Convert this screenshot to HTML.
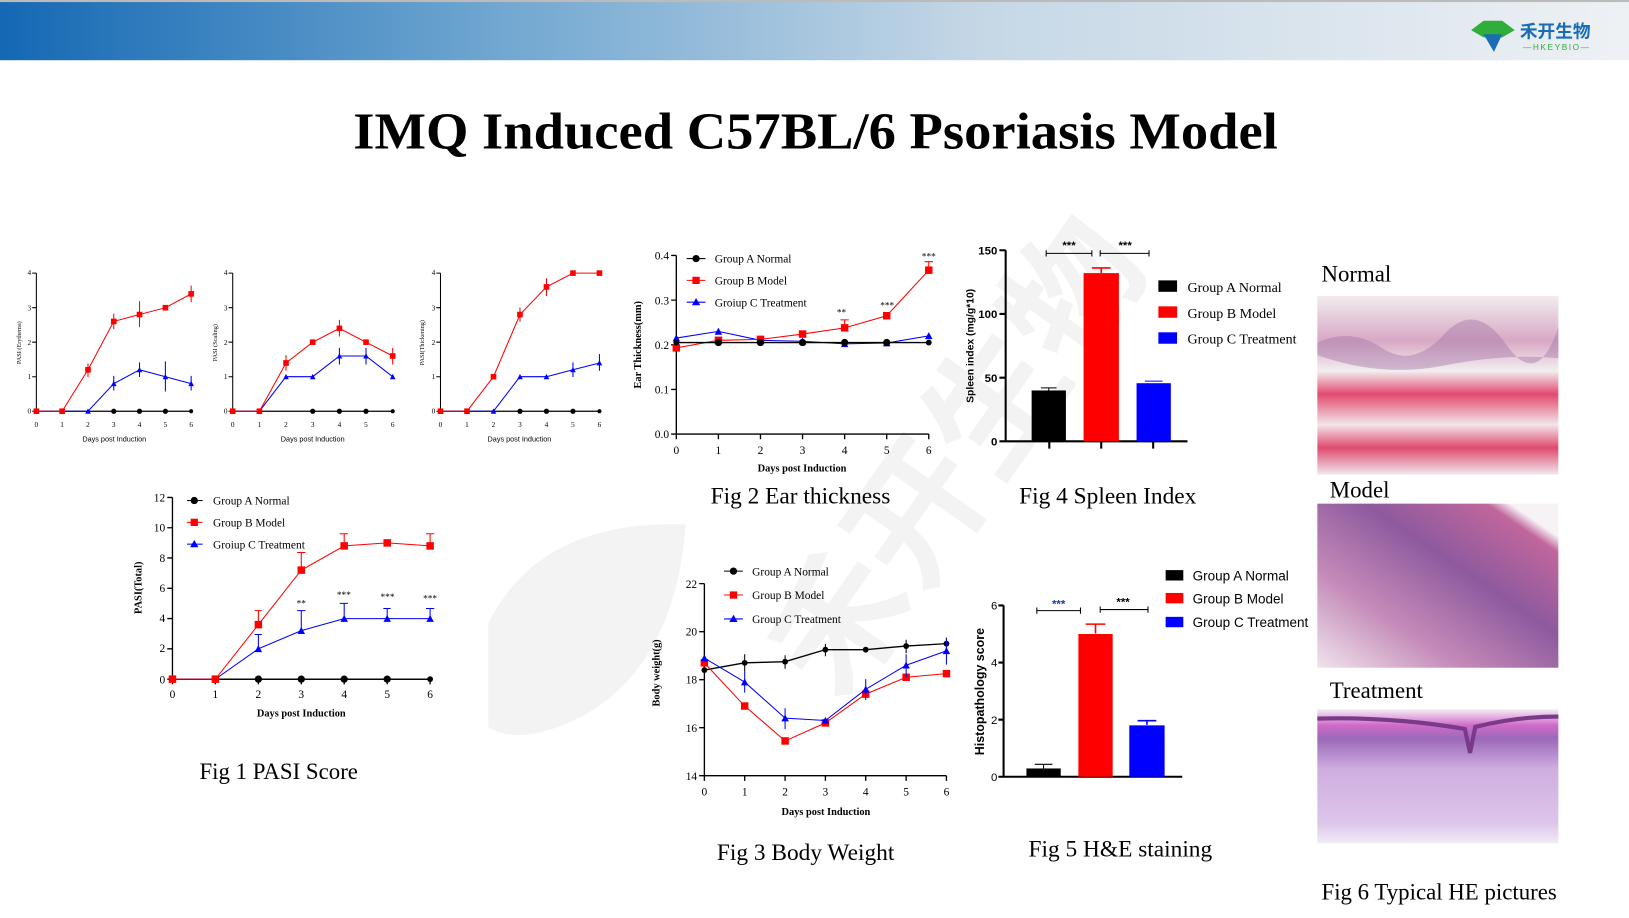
<!DOCTYPE html>
<html><head><meta charset="utf-8"><style>
html,body{margin:0;padding:0;background:#fff;overflow:hidden}
svg{display:block}
.s{font-family:"Liberation Serif",serif}
.a{font-family:"Liberation Sans",sans-serif}
</style></head><body>
<svg width="1629" height="918" viewBox="0 0 1568 884" preserveAspectRatio="none" xmlns="http://www.w3.org/2000/svg">
<defs>
<linearGradient id="hd" x1="0" x2="1" y1="0" y2="0">
<stop offset="0" stop-color="#1468b4"/><stop offset="0.3" stop-color="#6fa6d0"/><stop offset="0.6" stop-color="#c5d7e6"/><stop offset="1" stop-color="#eef1f4"/></linearGradient>
<marker id="ca" viewBox="-5 -5 10 10" markerWidth="7" markerHeight="7" markerUnits="userSpaceOnUse"><circle r="4" fill="#000"/></marker>
<marker id="sq" viewBox="-5 -5 10 10" markerWidth="8" markerHeight="8" markerUnits="userSpaceOnUse"><rect x="-4.5" y="-4.5" width="9" height="9" fill="#f00"/></marker>
<marker id="tr" viewBox="-5 -5 10 10" markerWidth="8" markerHeight="8" markerUnits="userSpaceOnUse"><path d="M0,-4.5 L4.5,4 L-4.5,4Z" fill="#00f"/></marker>
<marker id="cs" viewBox="-5 -5 10 10" markerWidth="5" markerHeight="5" markerUnits="userSpaceOnUse"><circle r="4" fill="#000"/></marker>
<marker id="ss" viewBox="-5 -5 10 10" markerWidth="6" markerHeight="6" markerUnits="userSpaceOnUse"><rect x="-4.5" y="-4.5" width="9" height="9" fill="#f00"/></marker>
<marker id="ts" viewBox="-5 -5 10 10" markerWidth="6" markerHeight="6" markerUnits="userSpaceOnUse"><path d="M0,-4.5 L4.5,4 L-4.5,4Z" fill="#00f"/></marker>
<linearGradient id="nrm" x1="0" y1="0" x2="0" y2="1"><stop offset="0" stop-color="#f1ecef"/><stop offset="0.25" stop-color="#d8a8c4"/><stop offset="0.42" stop-color="#f3eef0"/><stop offset="0.55" stop-color="#e24a6e"/><stop offset="0.72" stop-color="#f2e6ea"/><stop offset="0.85" stop-color="#e04a70"/><stop offset="1" stop-color="#f0e8ee"/></linearGradient>
<linearGradient id="mdl" x1="0" y1="1" x2="1" y2="0"><stop offset="0" stop-color="#f0e4ec"/><stop offset="0.3" stop-color="#c48ab8"/><stop offset="0.6" stop-color="#8e5a9e"/><stop offset="0.85" stop-color="#c0669c"/><stop offset="0.9" stop-color="#f7f2f6"/></linearGradient>
<linearGradient id="trt" x1="0" y1="0" x2="0" y2="1"><stop offset="0" stop-color="#f4eef6"/><stop offset="0.12" stop-color="#d06ac8"/><stop offset="0.22" stop-color="#9a6ab8"/><stop offset="0.45" stop-color="#d0aee0"/><stop offset="0.85" stop-color="#dcc6ea"/><stop offset="1" stop-color="#f1ecf6"/></linearGradient>
</defs>
<rect x="0" y="0" width="1568" height="58" fill="url(#hd)"/>
<rect x="0" y="0" width="1568" height="2" fill="#bbb"/>
<path d="M1416,29 L1428,20 L1446,20 L1458,29 L1446,36 L1428,36Z" fill="#2fae3a"/>
<path d="M1428,33 L1446,33 L1438,50Z" fill="#1a6cb4"/>
<text x="1463" y="36" font-size="17" font-weight="bold" fill="#1a6cb4" style="font-family:'Liberation Sans','Noto Sans CJK SC',sans-serif">禾开生物</text>
<text x="1466" y="48" class="a" font-size="8" fill="#2fae3a" letter-spacing="1.5">—HKEYBIO—</text>
<g opacity="0.05" fill="#000"><path d="M470,600 Q520,500 660,505 Q650,640 560,690 Q500,720 470,700Z"/>
<text x="560" y="560" transform="rotate(-55 800 380)" font-size="130" font-weight="bold" style="font-family:'Liberation Sans','Noto Sans CJK SC',sans-serif">禾开生物</text></g>
<text x="340" y="143" textLength="890" lengthAdjust="spacingAndGlyphs" class="s" font-size="50" font-weight="bold">IMQ Induced C57BL/6 Psoriasis Model</text>

<g class="s" font-size="7" stroke-width="1">
<g stroke="#000" fill="none"><path d="M35,263V396H184"/><path d="M31,263H35M31,296.3H35M31,329.5H35M31,362.8H35M31,396H35"/></g>
<g text-anchor="end"><text x="30" y="265">4</text><text x="30" y="299">3</text><text x="30" y="332">2</text><text x="30" y="365">1</text><text x="30" y="398">0</text></g>
<g text-anchor="middle"><text x="35" y="411">0</text><text x="59.8" y="411">1</text><text x="84.7" y="411">2</text><text x="109.5" y="411">3</text><text x="134.3" y="411">4</text><text x="159.2" y="411">5</text><text x="184" y="411">6</text></g>
<text x="110" y="425" text-anchor="middle" class="a" font-size="7">Days post Induction</text>
<text transform="translate(20,330) rotate(-90)" text-anchor="middle" font-size="6">PASI (Erythema)</text>
<polyline points="35,396 184,396" stroke="#000" fill="none" marker-mid="url(#cs)" marker-start="url(#cs)" marker-end="url(#cs)"/>
<circle cx="109.5" cy="396" r="2.5"/><circle cx="134.3" cy="396" r="2.5"/><circle cx="159.2" cy="396" r="2.5"/>
<polyline points="35,396 59.8,396 84.7,396 109.5,369.4 134.3,356.1 159.2,362.8 184,369.4" stroke="#00f" fill="none" marker-start="url(#ts)" marker-mid="url(#ts)" marker-end="url(#ts)"/>
<polyline points="35,396 59.8,396 84.7,356.1 109.5,309.5 134.3,302.9 159.2,296.3 184,283" stroke="#f00" fill="none" marker-start="url(#ss)" marker-mid="url(#ss)" marker-end="url(#ss)"/>
<path d="M109.5,302V317M134.3,290V315M184,275V291M84.7,350V363" stroke="#f00"/>
<path d="M109.5,362V376M134.3,349V363M159.2,348V377M184,362V376" stroke="#00f"/>
</g>
<g class="s" font-size="7">
<g stroke="#000" fill="none"><path d="M224,263V396H378"/><path d="M220,263H224M220,296.3H224M220,329.5H224M220,362.8H224M220,396H224"/></g>
<g text-anchor="end"><text x="219" y="265">4</text><text x="219" y="299">3</text><text x="219" y="332">2</text><text x="219" y="365">1</text><text x="219" y="398">0</text></g>
<g text-anchor="middle"><text x="224" y="411">0</text><text x="249.7" y="411">1</text><text x="275.3" y="411">2</text><text x="301" y="411">3</text><text x="326.7" y="411">4</text><text x="352.3" y="411">5</text><text x="378" y="411">6</text></g>
<text x="301" y="425" text-anchor="middle" class="a" font-size="7">Days post Induction</text>
<text transform="translate(209,330) rotate(-90)" text-anchor="middle" font-size="6">PASI (Scaling)</text>
<polyline points="224,396 378,396" stroke="#000" fill="none" marker-mid="url(#cs)" marker-start="url(#cs)" marker-end="url(#cs)"/>
<circle cx="301" cy="396" r="2.5"/><circle cx="326.7" cy="396" r="2.5"/><circle cx="352.3" cy="396" r="2.5"/>
<polyline points="224,396 249.7,396 275.3,362.75 301,362.75 326.7,342.8 352.3,342.8 378,362.75" stroke="#00f" fill="none" marker-start="url(#ts)" marker-mid="url(#ts)" marker-end="url(#ts)"/>
<polyline points="224,396 249.7,396 275.3,349.5 301,329.5 326.7,316.2 352.3,329.5 378,342.8" stroke="#f00" fill="none" marker-start="url(#ss)" marker-mid="url(#ss)" marker-end="url(#ss)"/>
<path d="M275.3,342V357M326.7,308V324M378,335V351" stroke="#f00"/>
<path d="M326.7,335V351M352.3,335V351" stroke="#00f"/>
</g>
<g class="s" font-size="7">
<g stroke="#000" fill="none"><path d="M424,263V396H577"/><path d="M420,263H424M420,296.3H424M420,329.5H424M420,362.8H424M420,396H424"/></g>
<g text-anchor="end"><text x="419" y="265">4</text><text x="419" y="299">3</text><text x="419" y="332">2</text><text x="419" y="365">1</text><text x="419" y="398">0</text></g>
<g text-anchor="middle"><text x="424" y="411">0</text><text x="449.5" y="411">1</text><text x="475" y="411">2</text><text x="500.5" y="411">3</text><text x="526" y="411">4</text><text x="551.5" y="411">5</text><text x="577" y="411">6</text></g>
<text x="500" y="425" text-anchor="middle" class="a" font-size="7">Days post Induction</text>
<text transform="translate(408,330) rotate(-90)" text-anchor="middle" font-size="6">PASI(Thickening)</text>
<polyline points="424,396 577,396" stroke="#000" fill="none" marker-mid="url(#cs)" marker-start="url(#cs)" marker-end="url(#cs)"/>
<circle cx="500.5" cy="396" r="2.5"/><circle cx="526" cy="396" r="2.5"/><circle cx="551.5" cy="396" r="2.5"/>
<polyline points="424,396 449.5,396 475,396 500.5,362.75 526,362.75 551.5,356.1 577,349.5" stroke="#00f" fill="none" marker-start="url(#ts)" marker-mid="url(#ts)" marker-end="url(#ts)"/>
<polyline points="424,396 449.5,396 475,362.75 500.5,302.9 526,276.3 551.5,263 577,263" stroke="#f00" fill="none" marker-start="url(#ss)" marker-mid="url(#ss)" marker-end="url(#ss)"/>
<path d="M500.5,296V310M526,268V285" stroke="#f00"/>
<path d="M551.5,349V363M577,341V357" stroke="#00f"/>
</g>

<g class="s" font-size="11">
<g stroke="#000" fill="none" stroke-width="1.3"><path d="M166,479V654H414"/><path d="M161,479H166M161,508.2H166M161,537.3H166M161,566.5H166M161,595.7H166M161,624.8H166M161,654H166"/>
<path d="M166,654V659M207.3,654V659M248.7,654V659M290,654V659M331.3,654V659M372.7,654V659M414,654V659"/></g>
<g text-anchor="end"><text x="159" y="483">12</text><text x="159" y="512">10</text><text x="159" y="541">8</text><text x="159" y="570">6</text><text x="159" y="599">4</text><text x="159" y="628">2</text><text x="159" y="658">0</text></g>
<g text-anchor="middle"><text x="166" y="672">0</text><text x="207.3" y="672">1</text><text x="248.7" y="672">2</text><text x="290" y="672">3</text><text x="331.3" y="672">4</text><text x="372.7" y="672">5</text><text x="414" y="672">6</text></g>
<text x="290" y="690" text-anchor="middle" font-size="10" font-weight="bold">Days post Induction</text>
<text transform="translate(136,566) rotate(-90)" text-anchor="middle" font-size="10" font-weight="bold">PASI(Total)</text>
<polyline points="166,654 414,654" stroke="#000" stroke-width="1.3" fill="none" marker-start="url(#ca)" marker-end="url(#ca)"/>
<circle cx="248.7" cy="654" r="3.5"/><circle cx="290" cy="654" r="3.5"/><circle cx="331.3" cy="654" r="3.5"/><circle cx="372.7" cy="654" r="3.5"/>
<polyline points="166,654 207.3,654 248.7,624.8 290,607.3 331.3,595.7 372.7,595.7 414,595.7" stroke="#00f" fill="none" marker-start="url(#tr)" marker-mid="url(#tr)" marker-end="url(#tr)"/>
<polyline points="166,654 207.3,654 248.7,601.5 290,549 331.3,525.7 372.7,522.8 414,525.7" stroke="#f00" fill="none" marker-start="url(#sq)" marker-mid="url(#sq)" marker-end="url(#sq)"/>
<path d="M248.7,588V601M245,588H252M290,532V549M286,532H294M331.3,514V526M327,514H335M414,514V526M410,514H418" stroke="#f00"/>
<path d="M248.7,611V625M245,611H252M290,588V607M286,588H294M331.3,581V596M327,581H335M372.7,586V596M369,586H376M414,586V596M410,586H418" stroke="#00f"/>
<g font-size="9" text-anchor="middle"><text x="290" y="584">**</text><text x="331" y="576">***</text><text x="373" y="578">***</text><text x="414" y="579">***</text></g>
<path d="M180,482H195" stroke="#000"/><circle cx="187" cy="482" r="3.5"/>
<path d="M180,503H195" stroke="#f00"/><rect x="183.5" y="499.5" width="7" height="7" fill="#f00"/>
<path d="M180,524H195" stroke="#00f"/><path d="M187,520L191,527H183Z" fill="#00f"/>
<text x="205" y="486">Group A Normal</text><text x="205" y="507">Group B Model</text><text x="205" y="528">Groiup C Treatment</text>
</g>
<text x="192" y="750" class="s" font-size="22">Fig 1  PASI Score</text>

<g class="s" font-size="11">
<g stroke="#000" fill="none" stroke-width="1.3"><path d="M651,246V418H894"/><path d="M646,246H651M646,289H651M646,332H651M646,375H651M646,418H651"/>
<path d="M651,418V423M691.5,418V423M732,418V423M772.5,418V423M813,418V423M853.5,418V423M894,418V423"/></g>
<g text-anchor="end"><text x="644" y="250">0.4</text><text x="644" y="293">0.3</text><text x="644" y="336">0.2</text><text x="644" y="379">0.1</text><text x="644" y="422">0.0</text></g>
<g text-anchor="middle"><text x="651" y="437">0</text><text x="691.5" y="437">1</text><text x="732" y="437">2</text><text x="772.5" y="437">3</text><text x="813" y="437">4</text><text x="853.5" y="437">5</text><text x="894" y="437">6</text></g>
<text x="772" y="454" text-anchor="middle" font-size="10" font-weight="bold">Days post Induction</text>
<text transform="translate(617,332) rotate(-90)" text-anchor="middle" font-size="10" font-weight="bold">Ear Thickness(mm)</text>
<polyline points="651,325.55 691.5,319.1 732,327.7 772.5,328.6 813,331.1 853.5,330.3 894,323.4" stroke="#00f" fill="none" marker-start="url(#tr)" marker-mid="url(#tr)" marker-end="url(#tr)"/>
<polyline points="651,335 691.5,327.7 732,326.8 772.5,321.7 813,315.7 853.5,304.05 894,260.2" stroke="#f00" fill="none" marker-start="url(#sq)" marker-mid="url(#sq)" marker-end="url(#sq)"/>
<polyline points="651,329.85 894,329.85" stroke="#000" stroke-width="1.3" fill="none" marker-start="url(#ca)" marker-end="url(#ca)"/>
<circle cx="691.5" cy="329.85" r="3.5"/><circle cx="732" cy="329.85" r="3.5"/><circle cx="772.5" cy="329.85" r="3.5"/><circle cx="813" cy="329.85" r="3.5"/><circle cx="853.5" cy="329.85" r="3.5"/>
<path d="M813,308V316M809,308H817M894,252V260M890,252H898" stroke="#f00"/>
<g font-size="9" text-anchor="middle"><text x="810" y="304">**</text><text x="854" y="297">***</text><text x="894" y="250">***</text></g>
<path d="M661,249H679" stroke="#000"/><circle cx="670" cy="249" r="3.5"/>
<path d="M661,270H679" stroke="#f00"/><rect x="666.5" y="266.5" width="7" height="7" fill="#f00"/>
<path d="M661,291H679" stroke="#00f"/><path d="M670,287L674,294H666Z" fill="#00f"/>
<text x="688" y="253">Group A Normal</text><text x="688" y="274">Group B Model</text><text x="688" y="295">Groiup C Treatment</text>
</g>
<text x="684" y="485" class="s" font-size="22.5">Fig 2 Ear thickness</text>

<g>
<g stroke="#000" fill="none" stroke-width="2"><path d="M968,241V425H1143"/><path d="M962,241H968M962,302.3H968M962,363.7H968M962,425H968M1010,425V432M1060,425V432M1110,425V432"/></g>
<g class="a" font-size="11" font-weight="bold" text-anchor="end"><text x="960" y="245">150</text><text x="960" y="306">100</text><text x="960" y="368">50</text><text x="960" y="429">0</text></g>
<text transform="translate(937,333) rotate(-90)" text-anchor="middle" class="a" font-size="10" font-weight="bold">Spleen index (mg/g*10)</text>
<rect x="993" y="376" width="33" height="49" fill="#000"/><path d="M1002,373.5H1017M1009.5,373.5V376" stroke="#000"/>
<rect x="1043" y="263" width="34" height="162" fill="#f00"/><path d="M1051,258H1069M1060,258V263" stroke="#f00" stroke-width="1.5"/>
<rect x="1094" y="369" width="33" height="56" fill="#00f"/><path d="M1102,367H1119" stroke="#00f"/>
<path d="M1007,244H1051M1007,241V247M1051,241V247M1059,244H1106M1059,241V247M1106,241V247" stroke="#000"/>
<g class="a" font-size="11" font-weight="bold" text-anchor="middle"><text x="1029" y="240">***</text><text x="1083" y="240">***</text></g>
<rect x="1115" y="270" width="18" height="11" fill="#000"/><rect x="1115" y="295" width="18" height="11" fill="#f00"/><rect x="1115" y="320" width="18" height="11" fill="#00f"/>
<g class="s" font-size="13.5"><text x="1143" y="281">Group A Normal</text><text x="1143" y="306">Group B Model</text><text x="1143" y="331">Group C Treatment</text></g>
</g>
<text x="981" y="485" class="s" font-size="22.5">Fig 4 Spleen Index</text>

<g class="s" font-size="11">
<g stroke="#000" fill="none" stroke-width="1.3"><path d="M678,562V747H911"/><path d="M673,562H678M673,608.25H678M673,654.5H678M673,700.75H678M673,747H678"/>
<path d="M678,747V752M716.8,747V752M755.7,747V752M794.5,747V752M833.3,747V752M872.2,747V752M911,747V752"/></g>
<g text-anchor="end"><text x="671" y="566">22</text><text x="671" y="612">20</text><text x="671" y="658">18</text><text x="671" y="705">16</text><text x="671" y="751">14</text></g>
<g text-anchor="middle"><text x="678" y="766">0</text><text x="716.8" y="766">1</text><text x="755.7" y="766">2</text><text x="794.5" y="766">3</text><text x="833.3" y="766">4</text><text x="872.2" y="766">5</text><text x="911" y="766">6</text></g>
<text x="795" y="785" text-anchor="middle" font-size="10" font-weight="bold">Days post Induction</text>
<text transform="translate(635,648) rotate(-90)" text-anchor="middle" font-size="10" font-weight="bold">Body weight(g)</text>
<polyline points="678,645.25 716.8,638.3 755.7,637.2 794.5,625.6 833.3,625.6 872.2,622.1 911,619.8" stroke="#000" stroke-width="1.3" fill="none" marker-start="url(#ca)" marker-mid="url(#ca)" marker-end="url(#ca)"/>
<polyline points="678,638.3 716.8,679.9 755.7,713.5 794.5,696.1 833.3,668.4 872.2,652.2 911,648.7" stroke="#f00" fill="none" marker-start="url(#sq)" marker-mid="url(#sq)" marker-end="url(#sq)"/>
<polyline points="678,633.7 716.8,656.8 755.7,691.5 794.5,693.8 833.3,663.75 872.2,640.6 911,626.75" stroke="#00f" fill="none" marker-start="url(#tr)" marker-mid="url(#tr)" marker-end="url(#tr)"/>
<path d="M716.8,630V647M755.7,631V644M794.5,620V632M872.2,616V629M911,614V626" stroke="#000"/>
<path d="M716.8,647V667M755.7,682V702M833.3,654V674M872.2,630V652M911,615V640" stroke="#00f"/>
<path d="M697,550H715" stroke="#000"/><circle cx="706" cy="550" r="3.5"/>
<path d="M697,573H715" stroke="#f00"/><rect x="702.5" y="569.5" width="7" height="7" fill="#f00"/>
<path d="M697,596H715" stroke="#00f"/><path d="M706,592L710,599H702Z" fill="#00f"/>
<text x="724" y="554">Group A Normal</text><text x="724" y="577">Group B Model</text><text x="724" y="600">Group C Treatment</text>
</g>
<text x="690" y="828" class="s" font-size="22.5">Fig 3 Body Weight</text>

<g>
<g stroke="#000" fill="none" stroke-width="2"><path d="M966,583V748H1138"/><path d="M961,583H966M961,638H966M961,693H966M961,748H966"/></g>
<g class="a" font-size="11" text-anchor="end"><text x="960" y="587">6</text><text x="960" y="642">4</text><text x="960" y="697">2</text><text x="960" y="752">0</text></g>
<text transform="translate(947,666) rotate(-90)" text-anchor="middle" class="a" font-size="12" font-weight="bold">Histopathology score</text>
<rect x="988" y="740" width="33" height="8" fill="#000"/><path d="M996,736H1013M1004.5,736V740" stroke="#000"/>
<rect x="1038" y="610.5" width="33" height="137.5" fill="#f00"/><path d="M1045,601H1064M1054.5,601V610" stroke="#f00" stroke-width="1.5"/>
<rect x="1087" y="698.5" width="34" height="49.5" fill="#00f"/><path d="M1095,694H1113M1104,694V698" stroke="#00f" stroke-width="1.5"/>
<path d="M998,588H1040M998,585V591M1040,585V591M1059,587H1105M1059,584V590M1105,584V590" stroke="#000"/>
<g class="a" font-size="11" font-weight="bold" text-anchor="middle"><text x="1019" y="585" fill="#1a3c9c">***</text><text x="1081" y="583">***</text></g>
<rect x="1122" y="549" width="17" height="10" fill="#000"/><rect x="1122" y="571" width="17" height="10" fill="#f00"/><rect x="1122" y="594" width="17" height="10" fill="#00f"/>
<g class="a" font-size="13"><text x="1148" y="559">Group A Normal</text><text x="1148" y="581">Group B Model</text><text x="1148" y="604">Group C Treatment</text></g>
</g>
<text x="990" y="825" class="s" font-size="22.5">Fig 5 H&amp;E staining</text>

<g class="s" font-size="22">
<text x="1272" y="271">Normal</text>
<rect x="1268" y="285" width="232" height="172" fill="url(#nrm)"/>
<path d="M1268,330 Q1300,315 1330,335 T1390,322 T1450,332 T1500,315 L1500,345 Q1450,340 1390,352 T1268,342Z" fill="#a478a8" opacity="0.45"/>
<text x="1280" y="479">Model</text>
<rect x="1268" y="485" width="232" height="158" fill="url(#mdl)"/>
<text x="1280" y="672">Treatment</text>
<rect x="1268" y="683" width="232" height="129" fill="url(#trt)"/>
<path d="M1268,692 Q1340,690 1410,702 L1415,725 L1420,700 Q1460,690 1500,690" stroke="#7a3a8a" stroke-width="4" fill="none"/>
<text x="1272" y="866">Fig 6 Typical HE pictures</text>
</g>
</svg>
</body></html>
